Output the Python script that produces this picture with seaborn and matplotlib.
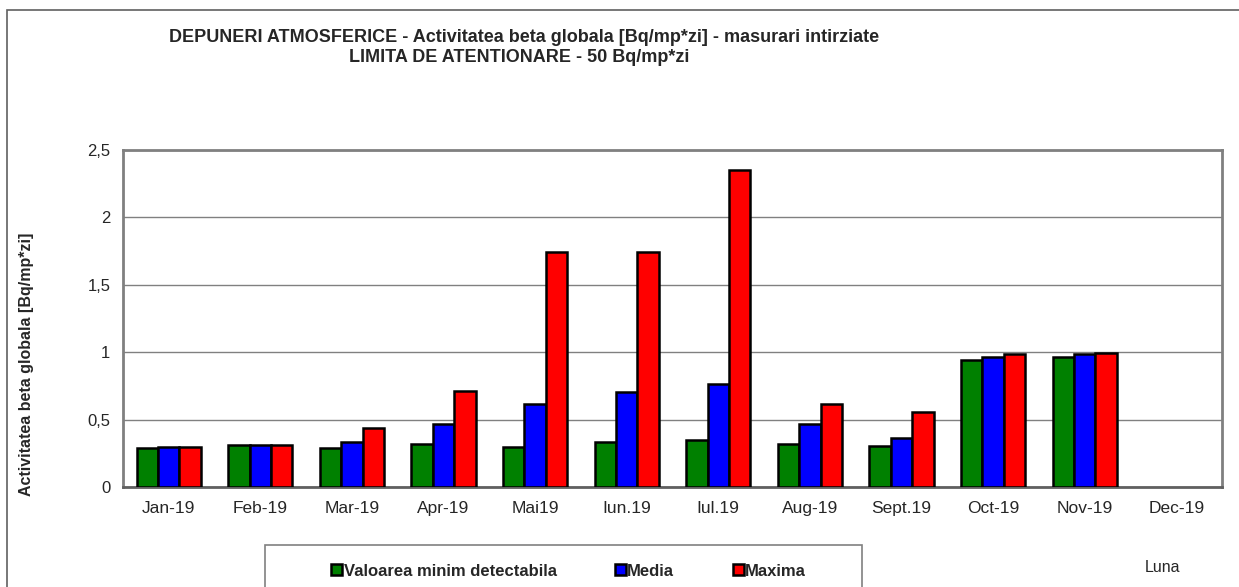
import pandas as pd
import numpy as np
import matplotlib
matplotlib.use("Agg")
import matplotlib.pyplot as plt
import seaborn as sns
from matplotlib.patches import Rectangle
from matplotlib.ticker import FixedLocator, FuncFormatter

months = ["Jan-19", "Feb-19", "Mar-19", "Apr-19", "Mai19", "Iun.19",
          "Iul.19", "Aug-19", "Sept.19", "Oct-19", "Nov-19", "Dec-19"]
series = ["Valoarea minim detectabila", "Media", "Maxima"]
minim = [0.29, 0.31, 0.287, 0.317, 0.299, 0.336, 0.346, 0.319, 0.306, 0.944, 0.962, np.nan]
media = [0.30, 0.31, 0.336, 0.465, 0.616, 0.707, 0.764, 0.465, 0.366, 0.962, 0.984, np.nan]
maxima = [0.30, 0.315, 0.435, 0.714, 1.743, 1.743, 2.35, 0.616, 0.556, 0.984, 0.992, np.nan]
colors = ["#008000", "#0000ff", "#ff0000"]

df = pd.DataFrame({"luna": months, series[0]: minim, series[1]: media, series[2]: maxima})
df = df.melt(id_vars="luna", var_name="serie", value_name="val")

sns.set_theme(style="white")
plt.rcParams["font.family"] = ["Liberation Sans", "DejaVu Sans"]

fig = plt.figure(figsize=(12.39, 5.87), dpi=100)
ax = fig.add_axes([123 / 1239, 1 - 487 / 587, (1222 - 123) / 1239, (487 - 150) / 587])

sns.barplot(data=df, x="luna", y="val", hue="serie", order=months, hue_order=series,
            palette=colors, width=0.7, edgecolor="black", linewidth=1.8,
            saturation=1, ax=ax, legend=True, zorder=3)

ax.set_ylim(0, 2.5)
ax.set_xlim(-0.5, 11.5)
ax.set_yticks([0, 0.5, 1, 1.5, 2, 2.5])
ax.yaxis.set_major_formatter(FuncFormatter(lambda v, p: f"{v:g}".replace(".", ",")))
ax.grid(axis="y", color="#808080", linewidth=1, zorder=0)
ax.set_xlabel("")
ax.set_ylabel("Activitatea beta globala [Bq/mp*zi]", fontsize=11.5, fontweight="bold")
ax.yaxis.set_label_coords(-0.081, 0.365)

for s in ax.spines.values():
    s.set_color("#808080")
    s.set_linewidth(2)
ax.spines["bottom"].set_color("#606060")

ax.tick_params(axis="x", which="major", length=0, pad=10, labelsize=12.5)
ax.xaxis.set_minor_locator(FixedLocator(np.arange(-0.5, 12, 1)))
ax.tick_params(axis="x", which="minor", length=6, width=1, color="#606060", direction="out")
ax.tick_params(axis="y", length=5, width=1, color="#606060", direction="out", labelsize=12, pad=4)

handles, labels = ax.get_legend_handles_labels()
ax.get_legend().remove()
fig.legend(handles, labels, ncol=3, loc="center left", bbox_to_anchor=(316 / 1239, 1 - 571 / 587),
           frameon=False, handlelength=0.65, handleheight=0.65, handletextpad=0.1,
           columnspacing=3.5, prop={"weight": "bold", "size": 12})

fig.text(524 / 1239, 1 - 38 / 587, "DEPUNERI ATMOSFERICE - Activitatea beta globala [Bq/mp*zi] - masurari intirziate",
         ha="center", va="center", fontsize=13, fontweight="bold")
fig.text(519 / 1239, 1 - 58 / 587, "LIMITA DE ATENTIONARE - 50 Bq/mp*zi",
         ha="center", va="center", fontsize=13, fontweight="bold")
fig.text(1163 / 1239, 1 - 567 / 587, "Luna", ha="center", va="center", fontsize=11.5)

fig.patches.append(Rectangle((7 / 1239, -0.1), 1.1, 1 - 10 / 587 + 0.1, transform=fig.transFigure,
                             fill=False, edgecolor="#606060", linewidth=1.2))
fig.patches.append(Rectangle((265 / 1239, -0.1), (862 - 265) / 1239, 1 - 545 / 587 + 0.1,
                             transform=fig.transFigure, fill=False, edgecolor="#808080", linewidth=1.2))

fig.savefig("out.png", dpi=100)
